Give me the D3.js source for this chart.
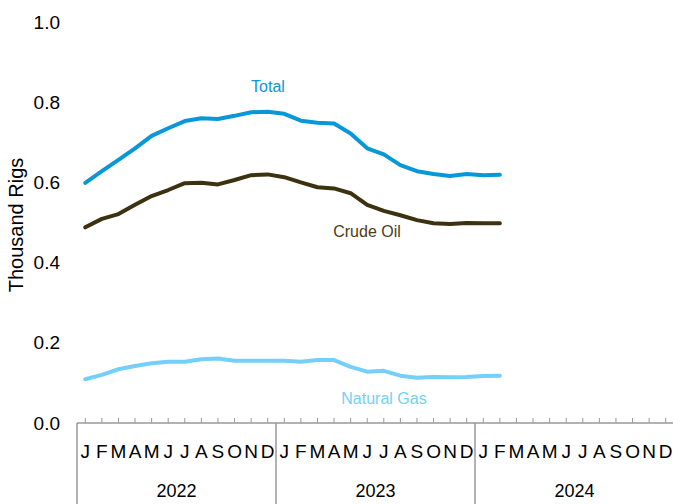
<!DOCTYPE html>
<html>
<head>
<meta charset="utf-8">
<script src="https://cdn.jsdelivr.net/npm/d3@7"></script>
<style>
  body { margin: 0; background: #fff; }
  text { font-family: "Liberation Sans", Arial, sans-serif; }
</style>
</head>
<body>
<div id="chart"></div>
<script>
// monthly rig counts, thousand rigs, Jan 2022 - Feb 2024
var years = ["2022", "2023", "2024"];
var monthLetters = ["J", "F", "M", "A", "M", "J", "J", "A", "S", "O", "N", "D"];
var yTicks = [0, 0.2, 0.4, 0.6, 0.8, 1.0];

var total = [0.599, 0.628, 0.656, 0.685, 0.716, 0.735, 0.753, 0.760, 0.758, 0.766, 0.775, 0.776,
             0.771, 0.754, 0.749, 0.747, 0.722, 0.685, 0.670, 0.643, 0.628, 0.621, 0.616, 0.621,
             0.618, 0.619];
var crudeOil = [0.488, 0.509, 0.521, 0.544, 0.566, 0.581, 0.598, 0.599, 0.595, 0.606, 0.618, 0.620,
                0.613, 0.600, 0.588, 0.585, 0.573, 0.544, 0.529, 0.518, 0.506, 0.498, 0.496, 0.499,
                0.498, 0.498];
var naturalGas = [0.109, 0.120, 0.134, 0.142, 0.149, 0.153, 0.153, 0.159, 0.161, 0.155, 0.155, 0.155,
                  0.155, 0.153, 0.157, 0.157, 0.140, 0.128, 0.130, 0.118, 0.113, 0.115, 0.114, 0.115,
                  0.117, 0.118];

var width = 673, height = 504;
var margin = {top: 22, left: 77, right: -1, bottom: 81};

var svg = d3.select("#chart").append("svg")
    .attr("width", width)
    .attr("height", height);

// one slot per month for all three years
var months = [];
years.forEach(function(yr) {
  monthLetters.forEach(function(m, i) { months.push(yr + "-" + i); });
});

var x = d3.scaleBand().domain(months).range([margin.left, width - margin.right]);
var y = d3.scaleLinear().domain([0, 1]).range([height - margin.bottom, margin.top]);
var y0 = y(0);

// y tick labels (no axis line)
svg.selectAll(".ylab")
  .data(yTicks)
  .enter().append("text")
    .attr("x", 60)
    .attr("y", function(d) { return y(d); })
    .attr("dy", "0.35em")
    .attr("text-anchor", "end")
    .style("font-size", "19px")
    .text(function(d) { return d.toFixed(1); });

svg.append("text")
    .attr("transform", "translate(23," + 225 + ") rotate(-90)")
    .attr("text-anchor", "middle")
    .style("font-size", "20px")
    .text("Thousand Rigs");

// category axis
var axisCol = "#999";
svg.append("line")
    .attr("x1", margin.left).attr("x2", width)
    .attr("y1", y0).attr("y2", y0)
    .attr("stroke", axisCol).attr("stroke-width", 1.5);

svg.selectAll(".tick")
  .data(months)
  .enter().append("line")
    .attr("x1", function(d) { return x(d) + x.bandwidth() / 2; })
    .attr("x2", function(d) { return x(d) + x.bandwidth() / 2; })
    .attr("y1", y0 - 5).attr("y2", y0)
    .attr("stroke", axisCol).attr("stroke-width", 1);

// year separators
svg.selectAll(".sep")
  .data(years)
  .enter().append("line")
    .attr("x1", function(d) { return x(d + "-0"); })
    .attr("x2", function(d) { return x(d + "-0"); })
    .attr("y1", y0).attr("y2", height)
    .attr("stroke", axisCol).attr("stroke-width", 1.5);

svg.selectAll(".mlab")
  .data(months)
  .enter().append("text")
    .attr("x", function(d) { return x(d) + x.bandwidth() / 2; })
    .attr("y", 451)
    .attr("dy", "0.35em")
    .attr("text-anchor", "middle")
    .style("font-size", "19px")
    .text(function(d) { return monthLetters[+d.split("-")[1]]; });

svg.selectAll(".yrlab")
  .data(years)
  .enter().append("text")
    .attr("x", function(d) { return x(d + "-0") + x.bandwidth() * 6; })
    .attr("y", 491)
    .attr("dy", "0.35em")
    .attr("text-anchor", "middle")
    .style("font-size", "18px")
    .text(function(d) { return d; });

// lines
var line = d3.line()
    .x(function(d, i) { return x(months[i]) + x.bandwidth() / 2; })
    .y(function(d) { return y(d); });

var series = [
  {name: "Natural Gas", values: naturalGas, color: "#73d0fb", lx: 384, ly: 398},
  {name: "Crude Oil", values: crudeOil, color: "#3d3210", lx: 367, ly: 231},
  {name: "Total", values: total, color: "#0898d8", lx: 268, ly: 86}
];

series.forEach(function(s) {
  svg.append("path")
      .datum(s.values)
      .attr("fill", "none")
      .attr("stroke", s.color)
      .attr("stroke-width", 4)
      .attr("stroke-linejoin", "round")
      .attr("stroke-linecap", "round")
      .attr("d", line);

  svg.append("text")
      .attr("x", s.lx)
      .attr("y", s.ly)
      .attr("dy", "0.35em")
      .attr("text-anchor", "middle")
      .attr("fill", s.name == "Crude Oil" ? "#4a3d18" : s.color)
      .style("font-size", "16px")
      .text(s.name);
});
</script>
</body>
</html>
